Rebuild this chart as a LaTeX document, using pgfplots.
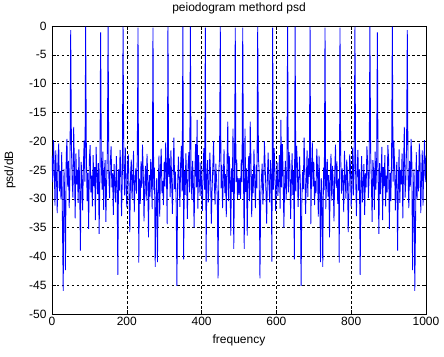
\documentclass[border=0pt]{standalone}
\usepackage{fontspec}
\setmainfont{Liberation Sans}
\usepackage{pgfplots}
\pgfplotsset{compat=1.18}
\begin{document}
\begin{tikzpicture}
\useasboundingbox (-52bp,-43bp) rectangle (392bp,314bp);
\begin{axis}[
  at={(0,0)}, anchor=south west,
  scale only axis, width=374bp, height=288bp,
  xmin=0, xmax=1000, ymin=-50, ymax=0,
  xtick={0,200,400,600,800,1000},
  xticklabels={0,200,400,600,800,1000},
  ytick={-50,-45,-40,-35,-30,-25,-20,-15,-10,-5,0},
  yticklabels={-50,-45,-40,-35,-30,-25,-20,-15,-10,-5,0},
  tick align=inside, major tick length=4bp,
  grid=major,
  major grid style={black, dash pattern=on 2.5bp off 2.5bp, line width=0.5bp},
  axis line style={black, line width=0.6bp},
  tick style={black, line width=0.5bp},
  tick label style={font=\fontsize{12bp}{14bp}\selectfont},
  label style={font=\fontsize{12bp}{14bp}\selectfont},
  title style={font=\fontsize{12bp}{14bp}\selectfont, at={(axis description cs:0.5,1.04)}, anchor=center},
  title={peiodogram methord psd},
  xlabel={frequency},
  ylabel={psd/dB},
  xlabel style={at={(axis description cs:0.5,-0.0903)}, anchor=center},
  ylabel style={at={(axis description cs:-0.1123,0.5)}, anchor=center},
  yticklabel style={xshift=-2bp},
  clip=true,
]
\addplot[color={rgb,1:red,0;green,0;blue,1}, line width=0.85bp, line join=miter, miter limit=2] coordinates {
(0,-22.5)(2,-27.1)(4,-19.8)(6,-24.3)(8,-31.2)(10,-21.6)(12,-26.4)(14,-32.5)(16,-23.0)(18,-20.4)
(20,-28.7)(22,-25.2)(24,-30.1)(26,-21.9)(28,-34.6)(30,-46.0)(32,-24.8)(34,-29.5)(36,-42.4)(38,-22.7)
(40,-19.6)(42,-27.9)(44,-23.4)(46,-31.6)(48,-25.8)(50,-0.7)(52,-21.2)(54,-26.9)(56,-29.8)(58,-17.5)
(60,-24.6)(62,-33.4)(64,-22.1)(66,-27.5)(68,-25.0)(70,-30.7)(72,-21.4)(74,-28.3)(76,-39.0)(78,-23.6)
(80,-26.2)(82,-32.0)(84,-24.1)(86,-19.9)(88,-27.0)(90,-0.1)(92,-22.8)(94,-30.4)(96,-25.5)(98,-35.2)
(100,-23.1)(102,-20.7)(104,-28.9)(106,-26.0)(108,-31.3)(110,-22.4)(112,-27.8)(114,-24.5)(116,-33.7)(118,-21.0)
(120,-25.9)(122,-29.2)(124,-23.8)(126,-36.1)(128,-26.6)(130,-1.1)(132,-24.2)(134,-28.4)(136,-21.8)(138,-31.9)
(140,-25.3)(142,-23.3)(144,-34.0)(146,-27.2)(148,-22.0)(150,-0.1)(152,-26.1)(154,-29.9)(156,-23.7)(158,-20.9)
(160,-28.0)(162,-25.6)(164,-32.8)(166,-24.0)(168,-27.4)(170,-30.6)(172,-22.6)(174,-26.8)(176,-43.2)(178,-24.9)
(180,-28.6)(182,-21.5)(184,-25.1)(186,-33.0)(188,-26.3)(190,-0.1)(192,-23.9)(194,-29.4)(196,-21.1)(198,-27.6)
(200,-31.5)(202,-24.4)(204,-22.3)(206,-28.8)(208,-35.8)(210,-25.7)(212,-23.2)(214,-30.0)(216,-26.7)(218,-21.7)
(220,-32.3)(222,-27.3)(224,-24.7)(226,-29.1)(228,-22.9)(230,-0.3)(232,-41.1)(234,-26.5)(236,-30.9)(238,-23.5)
(240,-28.1)(242,-20.6)(244,-25.4)(246,-33.9)(248,-27.7)(250,-24.3)(252,-30.3)(254,-22.2)(256,-26.0)(258,-36.7)
(260,-25.9)(262,-29.6)(264,-23.1)(266,-27.1)(268,-31.8)(270,-0.3)(272,-28.5)(274,-24.6)(276,-41.8)(278,-30.8)
(280,-26.4)(282,-41.0)(284,-28.2)(286,-22.5)(288,-33.1)(290,-25.0)(292,-21.3)(294,-29.0)(296,-26.9)(298,-31.1)
(300,-23.6)(302,-27.9)(304,-20.2)(306,-25.5)(308,-34.4)(310,-0.1)(312,-26.2)(314,-23.0)(316,-29.7)(318,-21.6)
(320,-27.2)(322,-32.6)(324,-24.8)(326,-19.4)(328,-28.3)(330,-25.3)(332,-30.5)(334,-45.1)(336,-27.4)(338,-22.7)
(340,-26.6)(342,-31.4)(344,-23.8)(346,-20.8)(348,-28.7)(350,-0.1)(352,-40.5)(354,-25.2)(356,-29.3)(358,-22.1)
(360,-27.0)(362,-33.5)(364,-24.0)(366,-21.9)(368,-28.9)(370,-0.1)(372,-26.3)(374,-30.2)(376,-23.4)(378,-27.6)
(380,-35.0)(382,-25.6)(384,-20.5)(386,-28.0)(388,-16.3)(390,-31.7)(392,-22.4)(394,-26.8)(396,-29.5)(398,-23.7)
(400,-27.8)(402,-32.1)(404,-25.1)(406,-21.2)(408,-28.4)(410,-0.3)(412,-40.9)(414,-26.0)(416,-23.3)(418,-30.6)
(420,-27.5)(422,-22.0)(424,-25.8)(426,-34.3)(428,-28.6)(430,-24.5)(432,-20.0)(434,-27.3)(436,-31.0)(438,-23.9)
(440,-26.5)(442,-29.8)(444,-43.8)(446,-25.4)(448,-22.8)(450,-0.1)(452,-28.2)(454,-24.1)(456,-31.6)(458,-26.7)
(460,-21.4)(462,-29.0)(464,-25.7)(466,-33.2)(468,-23.5)(470,-16.6)(472,-30.4)(474,-22.6)(476,-26.1)(478,-36.4)
(480,-24.7)(482,-28.8)(484,-17.8)(486,-38.7)(488,-25.9)(490,-0.3)(492,-27.1)(494,-23.2)(496,-30.0)(498,-26.4)
(500,-29.3)
(502,-26.4)(504,-30.0)(506,-23.2)(508,-27.1)(510,-0.3)(512,-25.9)(514,-38.7)(516,-17.8)(518,-28.8)(520,-24.7)
(522,-36.4)(524,-26.1)(526,-22.6)(528,-30.4)(530,-16.6)(532,-23.5)(534,-33.2)(536,-25.7)(538,-29.0)(540,-21.4)
(542,-26.7)(544,-31.6)(546,-24.1)(548,-28.2)(550,-0.1)(552,-22.8)(554,-25.4)(556,-43.8)(558,-29.8)(560,-26.5)
(562,-23.9)(564,-31.0)(566,-27.3)(568,-20.0)(570,-24.5)(572,-28.6)(574,-34.3)(576,-25.8)(578,-22.0)(580,-27.5)
(582,-30.6)(584,-23.3)(586,-26.0)(588,-40.9)(590,-0.3)(592,-28.4)(594,-21.2)(596,-25.1)(598,-32.1)(600,-27.8)
(602,-23.7)(604,-29.5)(606,-26.8)(608,-22.4)(610,-31.7)(612,-16.3)(614,-28.0)(616,-20.5)(618,-25.6)(620,-35.0)
(622,-27.6)(624,-23.4)(626,-30.2)(628,-26.3)(630,-0.1)(632,-28.9)(634,-21.9)(636,-24.0)(638,-33.5)(640,-27.0)
(642,-22.1)(644,-29.3)(646,-25.2)(648,-40.5)(650,-0.1)(652,-28.7)(654,-20.8)(656,-23.8)(658,-31.4)(660,-26.6)
(662,-22.7)(664,-27.4)(666,-45.1)(668,-30.5)(670,-25.3)(672,-28.3)(674,-19.4)(676,-24.8)(678,-32.6)(680,-27.2)
(682,-21.6)(684,-29.7)(686,-23.0)(688,-26.2)(690,-0.1)(692,-34.4)(694,-25.5)(696,-20.2)(698,-27.9)(700,-23.6)
(702,-31.1)(704,-26.9)(706,-29.0)(708,-21.3)(710,-25.0)(712,-33.1)(714,-22.5)(716,-28.2)(718,-41.0)(720,-26.4)
(722,-30.8)(724,-41.8)(726,-24.6)(728,-28.5)(730,-0.3)(732,-31.8)(734,-27.1)(736,-23.1)(738,-29.6)(740,-25.9)
(742,-36.7)(744,-26.0)(746,-22.2)(748,-30.3)(750,-24.3)(752,-27.7)(754,-33.9)(756,-25.4)(758,-20.6)(760,-28.1)
(762,-23.5)(764,-30.9)(766,-26.5)(768,-41.1)(770,-0.3)(772,-22.9)(774,-29.1)(776,-24.7)(778,-27.3)(780,-32.3)
(782,-21.7)(784,-26.7)(786,-30.0)(788,-23.2)(790,-25.7)(792,-35.8)(794,-28.8)(796,-22.3)(798,-24.4)(800,-31.5)
(802,-27.6)(804,-21.1)(806,-29.4)(808,-23.9)(810,-0.1)(812,-26.3)(814,-33.0)(816,-25.1)(818,-21.5)(820,-28.6)
(822,-24.9)(824,-43.2)(826,-26.8)(828,-22.6)(830,-30.6)(832,-27.4)(834,-24.0)(836,-32.8)(838,-25.6)(840,-28.0)
(842,-20.9)(844,-23.7)(846,-29.9)(848,-26.1)(850,-0.1)(852,-22.0)(854,-27.2)(856,-34.0)(858,-23.3)(860,-25.3)
(862,-31.9)(864,-21.8)(866,-28.4)(868,-24.2)(870,-1.1)(872,-26.6)(874,-36.1)(876,-23.8)(878,-29.2)(880,-25.9)
(882,-21.0)(884,-33.7)(886,-24.5)(888,-27.8)(890,-22.4)(892,-31.3)(894,-26.0)(896,-28.9)(898,-20.7)(900,-23.1)
(902,-35.2)(904,-25.5)(906,-30.4)(908,-22.8)(910,-0.1)(912,-27.0)(914,-19.9)(916,-24.1)(918,-32.0)(920,-26.2)
(922,-23.6)(924,-39.0)(926,-28.3)(928,-21.4)(930,-30.7)(932,-25.0)(934,-27.5)(936,-22.1)(938,-33.4)(940,-24.6)
(942,-17.5)(944,-29.8)(946,-26.9)(948,-21.2)(950,-0.7)(952,-25.8)(954,-31.6)(956,-23.4)(958,-27.9)(960,-19.6)
(962,-22.7)(964,-42.4)(966,-29.5)(968,-24.8)(970,-46.0)(972,-34.6)(974,-21.9)(976,-30.1)(978,-25.2)(980,-28.7)
(982,-20.4)(984,-23.0)(986,-32.5)(988,-26.4)(990,-21.6)(992,-31.2)(994,-24.3)(996,-19.8)(998,-27.1)(1000,-22.5)
};
\end{axis}
\end{tikzpicture}
\end{document}
